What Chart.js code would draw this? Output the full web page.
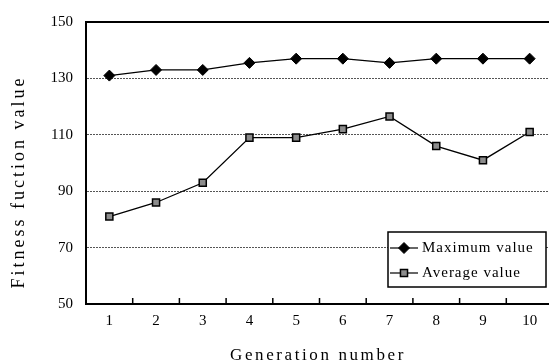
<!DOCTYPE html>
<html>
<head>
<meta charset="utf-8">
<script src="https://cdn.jsdelivr.net/npm/chart.js@4"></script>
<style>
  html, body { margin: 0; padding: 0; background: #fff; overflow: hidden; }
  #wrap { width: 560px; height: 363px; }
</style>
</head>
<body>
<div id="wrap"><canvas id="chart" width="560" height="363"></canvas></div>
<script>
const generations = ['1', '2', '3', '4', '5', '6', '7', '8', '9', '10'];
const maxValues = [131, 133, 133, 135.5, 137, 137, 135.5, 137, 137, 137];
const avgValues = [81, 86, 93, 109, 109, 112, 116.5, 106, 101, 111];
const yTicks = [50, 70, 90, 110, 130, 150];
const seriesNames = ['Maximum value', 'Average value'];
const xTitle = 'Generation number';
const yTitle = 'Fitness fuction value';

const serif = "'Liberation Serif', 'DejaVu Serif', serif";

// legend marker, same shapes as the series points
const drawMarker = (ctx, style, r, cx, cy) => {
    ctx.beginPath();
    if (style === 'rectRot') {
        ctx.moveTo(cx, cy - r);
        ctx.lineTo(cx + r, cy);
        ctx.lineTo(cx, cy + r);
        ctx.lineTo(cx - r, cy);
        ctx.closePath();
    } else {
        const s = r * Math.SQRT1_2;
        ctx.rect(cx - s, cy - s, 2 * s, 2 * s);
    }
    ctx.fill();
    ctx.stroke();
};

// frame, inner tick marks, titles and the boxed legend
const decorations = {
    id: 'decorations',
    afterDraw(chart) {
        const ctx = chart.ctx;
        const area = chart.chartArea;
        const x = chart.scales.x;

        ctx.save();
        ctx.strokeStyle = '#000';
        ctx.lineWidth = 2;
        ctx.beginPath();
        ctx.moveTo(area.left - 1, area.top);
        ctx.lineTo(area.right, area.top);
        ctx.lineTo(area.right, area.bottom);
        ctx.stroke();

        // small ticks pointing up between the categories
        ctx.lineWidth = 1.5;
        ctx.beginPath();
        for (let i = 0; i < generations.length - 1; i++) {
            const px = (x.getPixelForValue(i) + x.getPixelForValue(i + 1)) / 2;
            ctx.moveTo(px, area.bottom);
            ctx.lineTo(px, area.bottom - 6);
        }
        ctx.stroke();

        // axis titles
        ctx.fillStyle = '#000';
        ctx.font = '17px ' + serif;
        ctx.letterSpacing = '2.6px';
        ctx.textAlign = 'center';
        ctx.textBaseline = 'alphabetic';
        ctx.fillText(xTitle, 318, 360);

        ctx.save();
        ctx.translate(24, 182);
        ctx.rotate(-Math.PI / 2);
        ctx.font = '18px ' + serif;
        ctx.letterSpacing = '3px';
        ctx.fillText(yTitle, 0, 0);
        ctx.restore();

        // legend box
        const lx = area.right - 165, ly = area.bottom - 72;
        ctx.fillStyle = '#fff';
        ctx.fillRect(lx, ly, 158, 55);
        ctx.lineWidth = 1.5;
        ctx.strokeStyle = '#000';
        ctx.strokeRect(lx, ly, 158, 55);

        ctx.font = '15px ' + serif;
        ctx.letterSpacing = '1px';
        ctx.textAlign = 'left';
        ctx.textBaseline = 'middle';
        chart.data.datasets.forEach((ds, i) => {
            const cy = ly + 16 + i * 25;
            ctx.strokeStyle = '#000';
            ctx.lineWidth = 1.2;
            ctx.beginPath();
            ctx.moveTo(lx + 2, cy);
            ctx.lineTo(lx + 30, cy);
            ctx.stroke();
            ctx.fillStyle = ds.pointBackgroundColor;
            ctx.strokeStyle = ds.pointBorderColor;
            ctx.lineWidth = ds.pointBorderWidth;
            drawMarker(ctx, ds.pointStyle, ds.pointRadius, lx + 16, cy);
            ctx.fillStyle = '#000';
            ctx.fillText(ds.label, lx + 34, cy);
        });
        ctx.restore();
    }
};

new Chart(document.getElementById('chart'), {
    type: 'line',
    data: {
        labels: generations,
        datasets: [
            {
                label: seriesNames[0],
                data: maxValues,
                borderColor: '#000',
                borderWidth: 1.3,
                pointStyle: 'rectRot',
                pointRadius: 5.5,
                pointBackgroundColor: '#000',
                pointBorderColor: '#000',
                pointBorderWidth: 1
            },
            {
                label: seriesNames[1],
                data: avgValues,
                borderColor: '#000',
                borderWidth: 1.3,
                pointStyle: 'rect',
                pointRadius: 5,
                pointBackgroundColor: '#8c8c8c',
                pointBorderColor: '#000',
                pointBorderWidth: 1.5
            }
        ]
    },
    plugins: [decorations],
    options: {
        responsive: false,
        animation: false,
        devicePixelRatio: 1,
        layout: { padding: { top: 17, right: 7, left: 0, bottom: 0 } },
        plugins: {
            legend: { display: false },
            tooltip: { enabled: false }
        },
        scales: {
            x: {
                offset: true,
                grid: { display: false, drawTicks: false },
                border: { display: true, color: '#000', width: 2 },
                ticks: { color: '#000', font: { family: serif, size: 15 }, padding: 8 },
                afterFit(scale) { scale.height = 59; }
            },
            y: {
                min: 50,
                max: 150,
                afterBuildTicks(scale) { scale.ticks = yTicks.map(v => ({ value: v })); },
                grid: {
                    drawTicks: false,
                    color: c => (c.tick && (c.tick.value === 50 || c.tick.value === 150)) ? 'rgba(0,0,0,0)' : '#555',
                    lineWidth: 1
                },
                border: { display: true, color: '#000', width: 2, dash: [2, 1] },
                ticks: { color: '#000', font: { family: serif, size: 15 }, padding: 13 },
                afterFit(scale) { scale.width = 86; }
            }
        }
    }
});
</script>
</body>
</html>
